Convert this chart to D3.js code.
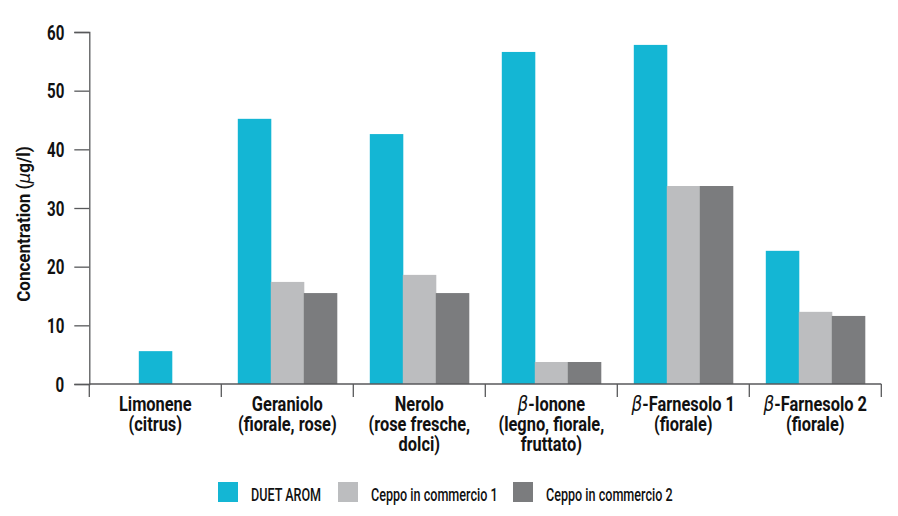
<!DOCTYPE html>
<html>
<head>
<meta charset="utf-8">
<script src="https://cdn.jsdelivr.net/npm/d3@7"></script>
<style>
  body { margin: 0; background: #fff; }
  text { font-family: Roboto, "Noto Sans", sans-serif; fill: #111; }
</style>
</head>
<body>
<script>
// categories and their label lines
var categories = ["Limonene", "Geraniolo", "Nerolo", "β-Ionone", "β-Farnesolo 1", "β-Farnesolo 2"];
var categoryLines = [
  ["Limonene", "(citrus)"],
  ["Geraniolo", "(fiorale, rose)"],
  ["Nerolo", "(rose fresche,", "dolci)"],
  ["β-Ionone", "(legno, fiorale,", "fruttato)"],
  ["β-Farnesolo 1", "(fiorale)"],
  ["β-Farnesolo 2", "(fiorale)"]
];
var seriesNames = ["DUET AROM", "Ceppo in commercio 1", "Ceppo in commercio 2"];
var duetArom = [5.6, 45.2, 42.6, 56.6, 57.8, 22.7];
var ceppo1 = [null, 17.4, 18.6, 3.75, 33.75, 12.3];
var ceppo2 = [null, 15.5, 15.5, 3.75, 33.75, 11.6];
var yTicks = [0, 10, 20, 30, 40, 50, 60];
var colors = ["#14b6d4", "#bcbdbf", "#7b7c7e"];

var width = 898, height = 516;
var margin = {left: 89.3, top: 32, right: 16.7, bottom: 132};
var axisColor = "#58595b";

var svg = d3.select("body").append("svg").attr("width", width).attr("height", height);

var x = d3.scaleBand().domain(categories).range([margin.left, width - margin.right]).paddingInner(0).paddingOuter(0);
var y = d3.scaleLinear().domain([0, 60]).range([height - margin.bottom, margin.top]);

var allSeries = [duetArom, ceppo1, ceppo2];

// bars (a category with a single value gets its bar centred)
categories.forEach(function(cat, i) {
  var present = [];
  allSeries.forEach(function(s, k) { if (s[i] !== null) present.push(k); });
  var barW = x.bandwidth() * 0.75 / 3;
  var start = x(cat) + (x.bandwidth() - barW * present.length) / 2;
  var sub = d3.scaleBand().domain(present).range([start, start + barW * present.length]);
  svg.append("g").selectAll("rect").data(present).enter().append("rect")
    .attr("x", function(k) { return sub(k); })
    .attr("width", sub.bandwidth() + 0.5)
    .attr("y", function(k) { return y(allSeries[k][i]); })
    .attr("height", function(k) { return y(0) - y(allSeries[k][i]); })
    .attr("fill", function(k) { return colors[k]; });
});

// y axis
var yAxis = svg.append("g")
  .attr("transform", "translate(" + margin.left + ",0)")
  .call(d3.axisLeft(y).tickValues(yTicks).tickSize(15).tickPadding(0).tickFormat(function() { return ""; }));
yAxis.select(".domain").attr("stroke", axisColor).attr("stroke-width", 1.3);
yAxis.selectAll(".tick line").attr("stroke", axisColor).attr("stroke-width", 1.3);
yAxis.selectAll(".tick").append("text")
  .attr("transform", "translate(-25,7) scale(0.72,1)")
  .attr("text-anchor", "end")
  .attr("font-size", 21).attr("font-weight", "bold")
  .text(function(d) { return d; });

// x axis
var x0 = y(0);
svg.append("line")
  .attr("x1", x.range()[0]).attr("x2", x.range()[1])
  .attr("y1", x0).attr("y2", x0)
  .attr("stroke", axisColor).attr("stroke-width", 1.3);
var boundaries = categories.map(function(c) { return x(c); }).concat([x.range()[1]]);
svg.append("g").selectAll("line").data(boundaries).enter().append("line")
  .attr("x1", function(d) { return d; }).attr("x2", function(d) { return d; })
  .attr("y1", x0).attr("y2", x0 + 13)
  .attr("stroke", axisColor).attr("stroke-width", 1.3);

// category labels
categoryLines.forEach(function(lines, i) {
  var cx = x(categories[i]) + x.bandwidth() / 2;
  var t = svg.append("text")
    .attr("transform", "translate(" + cx + ",411) scale(0.8,1)")
    .attr("text-anchor", "middle")
    .attr("font-size", 20.5)
    .attr("font-weight", "bold");
  lines.forEach(function(line, j) {
    var ts = t.append("tspan").attr("x", 0).attr("dy", j === 0 ? 0 : 20);
    if (line.indexOf("β") === 0) {
      ts.append("tspan").attr("font-style", "italic").attr("font-weight", "normal")
        .attr("font-family", "'DejaVu Sans', sans-serif").attr("font-size", 21).text("β");
      ts.append("tspan").text(line.slice(1));
    } else {
      ts.text(line);
    }
  });
});

// y axis title
var title = svg.append("text")
  .attr("transform", "translate(30,224) rotate(-90) scale(0.92,1)")
  .attr("text-anchor", "middle")
  .attr("font-size", 18.5)
  .attr("font-weight", "bold");
title.append("tspan").text("Concentration (");
title.append("tspan").attr("font-style", "italic").attr("font-weight", "normal")
  .attr("font-family", "'DejaVu Sans', sans-serif").text("μ");
title.append("tspan").text("g/l)");

// legend
var legendX = [218, 338, 513];
var legend = svg.append("g").selectAll("g").data(seriesNames).enter().append("g")
  .attr("transform", function(d, i) { return "translate(" + legendX[i] + ",482)"; });
legend.append("rect").attr("width", 20).attr("height", 20)
  .attr("fill", function(d, i) { return colors[i]; });
legend.append("text")
  .attr("transform", "translate(33,18.7) scale(0.7,1)")
  .attr("font-size", 18)
  .attr("font-weight", 500)
  .text(function(d) { return d; });
</script>
</body>
</html>
